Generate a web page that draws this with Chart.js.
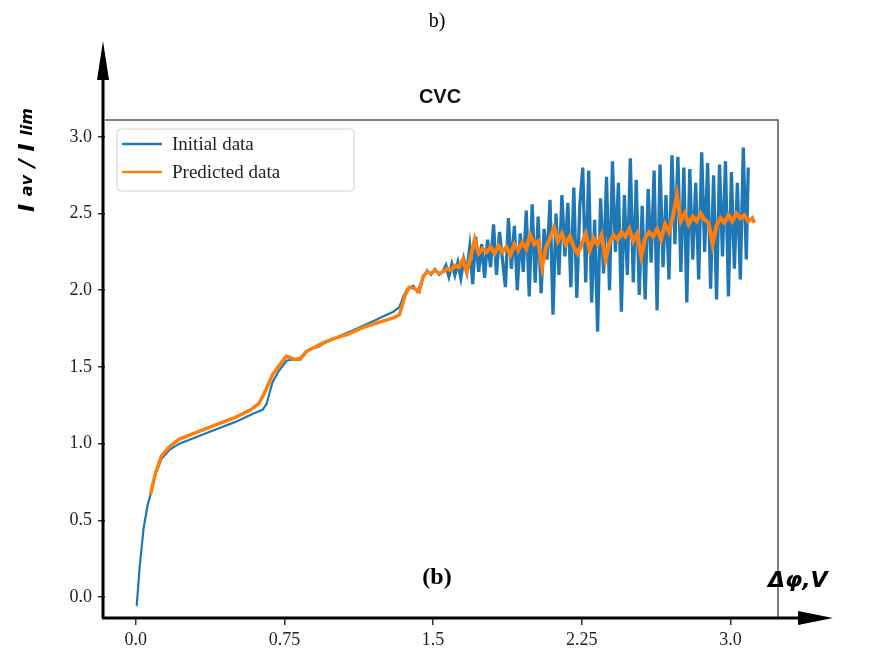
<!DOCTYPE html>
<html>
<head>
<meta charset="utf-8">
<script src="https://cdn.jsdelivr.net/npm/chart.js@4.4.1/dist/chart.umd.min.js"></script>
<style>
  html, body { margin: 0; padding: 0; background: #fff; }
  #wrap { position: relative; width: 871px; height: 657px; }
  #chartArea { position: absolute; left: 0; top: 0; }
</style>
</head>
<body>
<div id="wrap">
  <canvas id="chartArea" width="871" height="657"></canvas>
</div>
<script>
// tick labels
const xTicks = [0, 0.75, 1.5, 2.25, 3.0];
const xTickLabels = ["0.0", "0.75", "1.5", "2.25", "3.0"];
const yTicks = [0, 0.5, 1.0, 1.5, 2.0, 2.5, 3.0];
const yTickLabels = ["0.0", "0.5", "1.0", "1.5", "2.0", "2.5", "3.0"];

// Initial data (blue)
const initialX = [0.005, 0.02, 0.04, 0.06, 0.075, 0.10, 0.13, 0.17, 0.22, 0.30, 0.40, 0.50, 0.60, 0.64, 0.66, 0.69, 0.72, 0.76, 0.80, 0.83,
  0.86, 0.89, 0.92, 0.96, 1.01, 1.06, 1.10, 1.15, 1.20, 1.25, 1.30, 1.33, 1.35, 1.37, 1.40, 1.42, 1.45, 1.47, 1.49, 1.51, 1.53,
  1.550, 1.565, 1.580, 1.595, 1.610, 1.625, 1.640, 1.655, 1.670, 1.685, 1.700, 1.715, 1.730, 1.745, 1.760, 1.775, 1.790, 1.805,
  1.820, 1.835, 1.850, 1.865, 1.880, 1.895, 1.910, 1.925, 1.940, 1.955, 1.970, 1.985, 2.000, 2.015, 2.030, 2.045, 2.060, 2.075,
  2.090, 2.105, 2.120, 2.135, 2.150, 2.165, 2.180, 2.195, 2.210, 2.225, 2.240, 2.255, 2.270, 2.285, 2.300, 2.315, 2.330, 2.345,
  2.360, 2.375, 2.390, 2.405, 2.420, 2.435, 2.450, 2.465, 2.480, 2.495, 2.510, 2.525, 2.540, 2.555, 2.570, 2.585, 2.600, 2.615,
  2.630, 2.645, 2.660, 2.675, 2.690, 2.705, 2.720, 2.735, 2.750, 2.765, 2.780, 2.795, 2.810, 2.825, 2.840, 2.855, 2.870, 2.885,
  2.900, 2.915, 2.930, 2.945, 2.960, 2.975, 2.990, 3.005, 3.020, 3.035, 3.050, 3.065, 3.080, 3.090];
const initialY = [-0.06, 0.20, 0.45, 0.60, 0.67, 0.80, 0.90, 0.96, 1.00, 1.04, 1.09, 1.14, 1.20, 1.22, 1.26, 1.40, 1.47, 1.54, 1.55, 1.56,
  1.60, 1.62, 1.63, 1.66, 1.69, 1.72, 1.74, 1.77, 1.80, 1.83, 1.86, 1.89, 1.96, 2.01, 2.03, 1.99, 2.08, 2.13, 2.10, 2.14, 2.10,
  2.12, 2.16, 2.09, 2.17, 2.10, 2.18, 2.08, 2.20, 2.12, 2.28, 2.04, 2.35, 2.12, 2.30, 2.08, 2.33, 2.15, 2.43,
  2.10, 2.38, 2.20, 2.02, 2.47, 2.14, 2.42, 2.00, 2.37, 2.12, 2.52, 1.96, 2.56, 2.05, 2.48, 1.98, 2.40, 2.20,
  2.59, 1.84, 2.50, 2.10, 2.62, 2.22, 2.57, 2.02, 2.67, 1.95, 2.55, 2.80, 2.05, 2.78, 1.92, 2.46, 1.73, 2.60,
  2.11, 2.74, 2.00, 2.84, 2.25, 2.70, 1.86, 2.62, 2.10, 2.86, 2.05, 2.72, 1.97, 2.55, 1.94, 2.66, 2.18, 2.78,
  1.87, 2.82, 2.15, 2.62, 2.07, 2.88, 2.30, 2.87, 2.12, 2.80, 1.92, 2.79, 2.20, 2.70, 2.07, 2.90, 2.25, 2.83,
  2.01, 2.75, 1.94, 2.82, 2.22, 2.84, 1.96, 2.77, 2.14, 2.70, 2.07, 2.93, 2.20, 2.80];

// Predicted data (orange)
const predictedX = [0.075, 0.10, 0.13, 0.17, 0.22, 0.30, 0.40, 0.50, 0.58, 0.62, 0.65, 0.69, 0.73, 0.76, 0.80, 0.83, 0.86, 0.89, 0.95,
  1.01, 1.06, 1.10, 1.15, 1.20, 1.25, 1.30, 1.33, 1.36, 1.38, 1.41, 1.43, 1.45, 1.47, 1.49, 1.51, 1.53,
  1.55, 1.57, 1.59, 1.61, 1.63, 1.65, 1.67, 1.69, 1.71, 1.73, 1.75, 1.77, 1.79, 1.81, 1.83, 1.85, 1.87, 1.89, 1.91, 1.93,
  1.95, 1.97, 1.99, 2.01, 2.03, 2.05, 2.07, 2.09, 2.11, 2.13, 2.15, 2.17, 2.19, 2.21, 2.23, 2.25, 2.27, 2.29, 2.31, 2.33,
  2.35, 2.37, 2.39, 2.41, 2.43, 2.45, 2.47, 2.49, 2.51, 2.53, 2.55, 2.57, 2.59, 2.61, 2.63, 2.65, 2.67, 2.69, 2.71, 2.73,
  2.75, 2.77, 2.79, 2.81, 2.83, 2.85, 2.87, 2.89, 2.91, 2.93, 2.95, 2.97, 2.99, 3.01, 3.03, 3.05, 3.07, 3.09, 3.11, 3.12];
const predictedY = [0.67, 0.81, 0.92, 0.98, 1.03, 1.07, 1.12, 1.17, 1.22, 1.26, 1.33, 1.45, 1.52, 1.57, 1.55, 1.55, 1.60, 1.62, 1.66,
  1.69, 1.71, 1.73, 1.76, 1.78, 1.80, 1.82, 1.84, 1.97, 2.02, 2.01, 1.99, 2.09, 2.12, 2.11, 2.13, 2.11,
  2.12, 2.14, 2.13, 2.16, 2.15, 2.20, 2.12, 2.22, 2.33, 2.24, 2.27, 2.25, 2.28, 2.24, 2.29, 2.25, 2.28, 2.23, 2.30, 2.26,
  2.31, 2.27, 2.36, 2.30, 2.32, 2.15, 2.28, 2.34, 2.41, 2.32, 2.37, 2.30, 2.35, 2.28, 2.24, 2.30, 2.37, 2.26, 2.34, 2.30,
  2.36, 2.20, 2.31, 2.36, 2.33, 2.38, 2.35, 2.40, 2.32, 2.37, 2.22, 2.34, 2.38, 2.35, 2.40, 2.33, 2.43, 2.38, 2.48, 2.62,
  2.45, 2.50, 2.43, 2.48, 2.45, 2.50, 2.46, 2.44, 2.30, 2.42, 2.47, 2.44, 2.49, 2.45, 2.50, 2.47, 2.49, 2.45, 2.47, 2.44];

const seriesNames = ["Initial data", "Predicted data"];
const seriesColors = ["#1f77b4", "#ff7f0e"];

(function(){
    const chartCanvas = document.getElementById("chartArea");
    const toPoints = (xs, ys) => xs.map((x, i) => ({x: x, y: ys[i]}));
    // lines get heavier where the signal turns noisy
    const widthAfter = (xFrom, thin, thick) => (seg) => seg.p0.parsed.x >= xFrom ? thick : thin;

    // arrows, frame, legend and the free-floating texts
    const decorations = {
        id: "decorations",
        afterDraw(chart) {
            const ctx = chart.ctx;
            const a = chart.chartArea;
            ctx.save();

            // thin frame on top and right
            ctx.strokeStyle = "#555";
            ctx.lineWidth = 1.5;
            ctx.beginPath();
            ctx.moveTo(a.left, a.top);
            ctx.lineTo(a.right, a.top);
            ctx.lineTo(a.right, a.bottom);
            ctx.stroke();

            // thick axes with arrows
            ctx.strokeStyle = "#000";
            ctx.fillStyle = "#000";
            ctx.lineWidth = 3;
            ctx.beginPath();
            ctx.moveTo(a.left - 2, a.bottom);
            ctx.lineTo(a.left - 2, 70);
            ctx.moveTo(a.left - 3, a.bottom);
            ctx.lineTo(805, a.bottom);
            ctx.stroke();
            ctx.beginPath();
            ctx.moveTo(a.left - 2, 41);
            ctx.lineTo(a.left - 8, 80);
            ctx.lineTo(a.left + 4, 80);
            ctx.closePath();
            ctx.fill();
            ctx.beginPath();
            ctx.moveTo(833, a.bottom);
            ctx.lineTo(798, a.bottom - 7);
            ctx.lineTo(798, a.bottom + 7);
            ctx.closePath();
            ctx.fill();

            // legend
            const lx = 117, ly = 129, lw = 237, lh = 62;
            ctx.fillStyle = "rgba(255,255,255,0.85)";
            ctx.strokeStyle = "#d0d0d0";
            ctx.lineWidth = 1;
            ctx.beginPath();
            ctx.roundRect(lx, ly, lw, lh, 4);
            ctx.fill();
            ctx.stroke();
            ctx.font = "19px 'Liberation Serif', 'Times New Roman', serif";
            ctx.textBaseline = "middle";
            seriesNames.forEach((name, i) => {
                const yy = ly + 15 + i * 28;
                ctx.strokeStyle = seriesColors[i];
                ctx.lineWidth = 2.5;
                ctx.beginPath();
                ctx.moveTo(lx + 5, yy);
                ctx.lineTo(lx + 45, yy);
                ctx.stroke();
                ctx.fillStyle = "#222";
                ctx.fillText(name, lx + 55, yy + 1);
            });

            ctx.fillStyle = "#000";
            ctx.textAlign = "center";
            // "b)" above everything
            ctx.font = "20px 'Liberation Serif', 'Times New Roman', serif";
            ctx.fillText("b)", 437, 22);

            // chart title
            ctx.fillStyle = "#111";
            ctx.font = "bold 20px 'Liberation Sans', Arial, sans-serif";
            ctx.fillText("CVC", 440, 97);

            // "(b)" inside the plot
            ctx.fillStyle = "#000";
            ctx.font = "bold 24px 'Liberation Serif', 'Times New Roman', serif";
            ctx.fillText("(b)", 437, 578);

            // x axis name
            ctx.textAlign = "left";
            ctx.font = "bold italic 22px 'DejaVu Sans', sans-serif";
            ctx.fillText("Δφ,V", 768, 581);

            // y axis name, rotated, with small subscripts
            ctx.translate(28, 212);
            ctx.rotate(-Math.PI / 2);
            const parts = [["I ", "bold italic 22px 'DejaVu Sans', sans-serif"],
                           ["av", "bold italic 16px 'DejaVu Sans', sans-serif"],
                           [" / ", "bold italic 22px 'DejaVu Sans', sans-serif"],
                           ["I ", "bold italic 22px 'DejaVu Sans', sans-serif"],
                           ["lim", "bold italic 16px 'DejaVu Sans', sans-serif"]];
            let px = 0;
            parts.forEach(p => {
                ctx.font = p[1];
                ctx.fillText(p[0], px, 0);
                px += ctx.measureText(p[0]).width;
            });
            ctx.restore();
        }
    };

    const tickFont = {family: "'Liberation Serif', 'Times New Roman', serif", size: 18};

    new Chart(chartCanvas, {
        type: "line",
        data: {
            datasets: [{
                label: seriesNames[0],
                data: toPoints(initialX, initialY),
                borderColor: seriesColors[0],
                borderWidth: 2.2,
                segment: {borderWidth: widthAfter(1.55, 2.2, 3.3)},
                pointRadius: 0,
                tension: 0,
                order: 2
            }, {
                label: seriesNames[1],
                data: toPoints(predictedX, predictedY),
                borderColor: seriesColors[1],
                borderWidth: 3.5,
                segment: {borderWidth: widthAfter(1.55, 3.5, 4)},
                pointRadius: 0,
                tension: 0,
                order: 1
            }]
        },
        options: {
            responsive: false,
            animation: false,
            devicePixelRatio: 1,
            layout: {padding: {left: 0, right: 93, top: 120, bottom: 0}},
            plugins: {
                legend: {display: false},
                tooltip: {enabled: false},
                title: {display: false}
            },
            scales: {
                x: {
                    type: "linear",
                    min: -0.155,
                    max: 3.24,
                    afterBuildTicks: s => { s.ticks = xTicks.map(v => ({value: v})); },
                    afterFit: s => { s.height = 39; },
                    ticks: {
                        font: tickFont,
                        color: "#222",
                        padding: 4,
                        maxRotation: 0,
                        callback: (v) => xTickLabels[xTicks.indexOf(v)]
                    },
                    grid: {drawOnChartArea: false, tickLength: 7, color: "#333", lineWidth: 1.5},
                    border: {display: false}
                },
                y: {
                    min: -0.137,
                    max: 3.11,
                    afterBuildTicks: s => { s.ticks = yTicks.map(v => ({value: v})); },
                    afterFit: s => { s.width = 105; },
                    ticks: {
                        font: tickFont,
                        color: "#222",
                        padding: 6,
                        callback: (v) => yTickLabels[yTicks.indexOf(v)]
                    },
                    grid: {drawOnChartArea: false, tickLength: 7, color: "#333", lineWidth: 1.5},
                    border: {display: false}
                }
            }
        },
        plugins: [decorations]
    });
})();
</script>
</body>
</html>
